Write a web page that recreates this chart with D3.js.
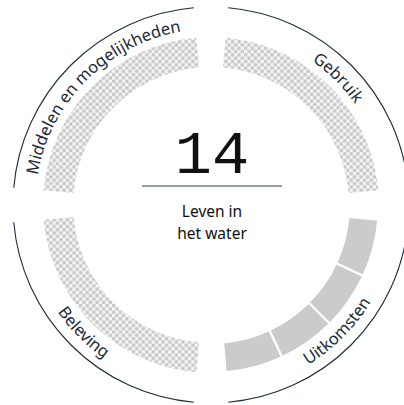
<!DOCTYPE html>
<html>
<head>
<meta charset="utf-8">
<script src="https://cdn.jsdelivr.net/npm/d3@7"></script>
<style>
  html, body { margin: 0; padding: 0; background: #fff; }
  svg { display: block; }
</style>
</head>
<body>
<svg id="chart" width="404" height="405"></svg>
<script>
// Domains around the circle, clockwise from the top-right quarter
const domains = ["Gebruik", "Uitkomsten", "Beleving", "Middelen en mogelijkheden"];
// Indicator segments per domain (null = no data, drawn hatched)
const gebruikSegments = [null];
const uitkomstenSegments = [1, 1, 1, 1];
const belevingSegments = [null];
const middelenSegments = [null];
const segmentsByDomain = [gebruikSegments, uitkomstenSegments, belevingSegments, middelenSegments];
// Centre text
const centreNumber = "14";
const centreTitle = ["Leven in", "het water"];

const W = 404, H = 405;
const cx = 211, cy = 205;
const rInner = 138, rOuter = 168, rLine = 198;
const gapDeg = 5;
const deg = Math.PI / 180;

const svg = d3.select("#chart");

// Checkerboard dot fill for domains without data
const defs = svg.append("defs");
const P = 6.6;
const pat = defs.append("pattern")
  .attr("id", "nodata")
  .attr("patternUnits", "userSpaceOnUse")
  .attr("width", P).attr("height", P);
pat.append("rect").attr("width", P).attr("height", P).attr("fill", "#f5f5f5");
pat.append("circle").attr("cx", P / 4).attr("cy", P / 4).attr("r", 1.9).attr("fill", "#c8c8c8");
pat.append("circle").attr("cx", 3 * P / 4).attr("cy", 3 * P / 4).attr("r", 1.9).attr("fill", "#c8c8c8");

const g = svg.append("g").attr("transform", `translate(${cx},${cy})`);

// Angular extent of each domain quarter (d3 convention: 0 at 12 o'clock, clockwise)
const domainAngle = d3.scaleBand()
  .domain(domains)
  .range([0, 2 * Math.PI]);

const arc = d3.arc().innerRadius(rInner).outerRadius(rOuter);

domains.forEach((name, i) => {
  const a0 = domainAngle(name) + gapDeg * deg;
  const a1 = domainAngle(name) + domainAngle.bandwidth() - gapDeg * deg;
  const segs = segmentsByDomain[i];
  const hasData = segs.every(v => v !== null);

  const pie = d3.pie().sort(null)
    .value(v => (v === null ? 1 : v))
    .startAngle(a0).endAngle(a1);

  g.append("g")
    .selectAll("path")
    .data(pie(segs))
    .join("path")
    .attr("d", arc)
    .attr("fill", hasData ? "#cbcbcb" : "url(#nodata)")
    .attr("stroke", hasData ? "#fff" : "none")
    .attr("stroke-width", hasData ? 2.2 : 0);

  // Outer rule for the domain
  const line = d3.path();
  line.arc(0, 0, rLine, a0 - Math.PI / 2, a1 - Math.PI / 2, false);
  g.append("path")
    .attr("d", line.toString())
    .attr("fill", "none")
    .attr("stroke", "#1c2b38")
    .attr("stroke-width", 1.1);

  // Label path: upper half runs clockwise, lower half anticlockwise so text stays upright
  const mid = (a0 + a1) / 2;
  const upper = Math.cos(mid) > 0;
  const lp = d3.path();
  if (upper) {
    lp.arc(0, 0, 176, a0 - Math.PI / 2, a1 - Math.PI / 2, false);
  } else {
    lp.arc(0, 0, 187, a1 - Math.PI / 2, a0 - Math.PI / 2, true);
  }
  defs.append("path").attr("id", "lbl" + i).attr("d", lp.toString());
  g.append("text")
    .attr("font-family", "'Noto Sans', sans-serif")
    .attr("font-size", 16.5)
    .attr("fill", "#1c2b38")
    .append("textPath")
    .attr("href", "#lbl" + i)
    .attr("startOffset", "50%")
    .attr("text-anchor", "middle")
    .text(name);
});

// Centre: number, rule, title
g.append("text")
  .attr("x", 1).attr("y", -32)
  .attr("text-anchor", "middle")
  .attr("font-family", "'Liberation Mono', monospace")
  .attr("font-size", 62)
  .attr("fill", "#111")
  .text(centreNumber);

g.append("line")
  .attr("x1", -69).attr("x2", 71)
  .attr("y1", -19).attr("y2", -19)
  .attr("stroke", "#2c3e48")
  .attr("stroke-width", 1.2);

g.append("text")
  .attr("text-anchor", "middle")
  .attr("font-family", "'Noto Sans', sans-serif")
  .attr("font-size", 15.5)
  .attr("fill", "#111")
  .selectAll("tspan")
  .data(centreTitle)
  .join("tspan")
  .attr("x", 1)
  .attr("y", (d, i) => 12 + i * 22)
  .text(d => d);
</script>
</body>
</html>
